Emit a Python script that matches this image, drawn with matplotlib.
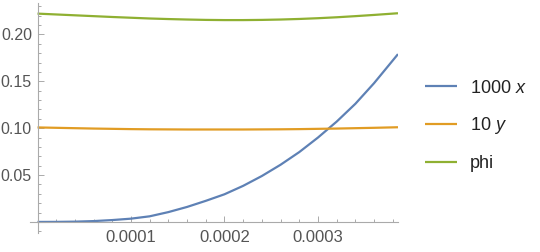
import matplotlib
matplotlib.use("Agg")
import matplotlib.pyplot as plt
from matplotlib.ticker import MultipleLocator, FixedLocator

# values
xs = [0, 0.2e-4, 0.4e-4, 0.6e-4, 0.8e-4, 1.0e-4, 1.2e-4, 1.4e-4, 1.6e-4, 1.8e-4,
      2.0e-4, 2.2e-4, 2.4e-4, 2.6e-4, 2.8e-4, 3.0e-4, 3.2e-4, 3.4e-4, 3.6e-4, 3.856e-4]
x1000 = [0, 0.00005, 0.0003, 0.0009, 0.002, 0.0035, 0.006, 0.0105, 0.0160, 0.0225,
         0.0295, 0.0385, 0.0490, 0.0610, 0.0745, 0.0900, 0.1070, 0.1260, 0.1480, 0.1790]
y10 = [0.1008, 0.1004, 0.1000, 0.0996, 0.0993, 0.0990, 0.0988, 0.0987, 0.0986, 0.0986,
       0.0986, 0.0986, 0.0987, 0.0988, 0.0990, 0.0993, 0.0996, 0.1000, 0.1004, 0.1010]
phi = [0.2222, 0.2213, 0.2204, 0.2195, 0.2186, 0.2178, 0.2170, 0.2164, 0.2159, 0.2155,
       0.2153, 0.2153, 0.2155, 0.2159, 0.2165, 0.2173, 0.2183, 0.2195, 0.2208, 0.2226]
labels = ["1000 $x$", "10 $y$", "phi"]
colors = ["#5E81B5", "#E19C24", "#8FB032"]

plt.rcParams['font.family'] = ['Liberation Sans', 'DejaVu Sans']
plt.rcParams['mathtext.fontset'] = 'custom'
plt.rcParams['mathtext.it'] = 'Liberation Sans:italic'

fig = plt.figure(figsize=(5.4, 2.52), dpi=100)
ax = fig.add_axes([0.0556, 0.0754, 0.737 - 0.0556, 0.988 - 0.0754])

for ys, lab, c in zip([x1000, y10, phi], labels, colors):
    ax.plot(xs, ys, color=c, lw=1.6, label=lab, solid_capstyle='butt')

ax.set_xlim(-0.08e-4, 3.856e-4)
ax.set_ylim(-0.0118, 0.2335)

for s in ['top', 'right']:
    ax.spines[s].set_visible(False)
ax.spines['left'].set_position(('data', 0))
ax.spines['bottom'].set_position(('data', 0))
for s in ['left', 'bottom']:
    ax.spines[s].set_color('#aaaaaa')
    ax.spines[s].set_linewidth(0.8)

ax.xaxis.set_major_locator(FixedLocator([1e-4, 2e-4, 3e-4]))
ax.xaxis.set_minor_locator(MultipleLocator(0.2e-4))
ax.yaxis.set_major_locator(FixedLocator([0.05, 0.10, 0.15, 0.20]))
ax.yaxis.set_minor_locator(MultipleLocator(0.01))
ax.set_xticklabels(["0.0001", "0.0002", "0.0003"])
ax.set_yticklabels(["0.05", "0.10", "0.15", "0.20"])
ax.tick_params(which='both', direction='in', color='#aaaaaa', width=0.7,
               labelcolor='#555555')
ax.tick_params(axis='x', labelsize=12, pad=6)
ax.tick_params(axis='y', labelsize=11.5, pad=4)
ax.tick_params(which='major', length=4)
ax.tick_params(which='minor', length=2.2)

leg = fig.legend(loc='center left', bbox_to_anchor=(0.787, 0.5), frameon=False,
                 fontsize=13, handlelength=1.75, handletextpad=0.75,
                 labelspacing=1.05, borderpad=0, borderaxespad=0)
for t in leg.get_texts():
    t.set_color('#222222')

fig.savefig("out.png", dpi=100)
